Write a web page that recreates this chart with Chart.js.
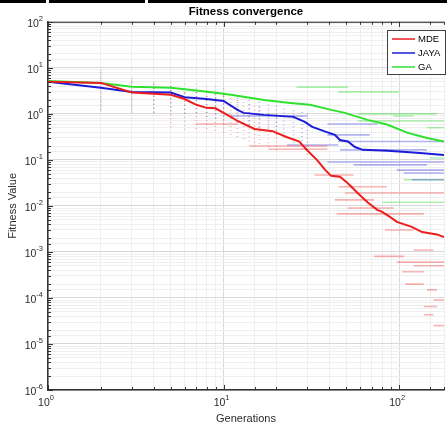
<!DOCTYPE html>
<html>
<head>
<meta charset="utf-8">
<script src="https://cdn.jsdelivr.net/npm/chart.js@4.4.1/dist/chart.umd.min.js"></script>
<style>
  html, body { margin: 0; padding: 0; background: #fff; }
  #wrap { width: 447px; height: 427px; }
</style>
</head>
<body>
<div id="wrap"><canvas id="fitnessChart"></canvas></div>
<script>
// best-so-far curves (generation, fitness)
const mdeGen  = [1, 2, 3, 5, 6, 7, 8, 9, 10, 11, 12, 15, 19, 23, 27, 30, 34, 38, 41, 46, 51, 58, 66, 75, 80, 89, 97, 118, 135, 164, 180];
const mdeBest = [5.0, 4.7, 2.9, 2.6, 2.1, 1.57, 1.35, 1.32, 1.05, 0.86, 0.7, 0.47, 0.42, 0.31, 0.25, 0.16, 0.1, 0.06, 0.045, 0.043, 0.031, 0.019, 0.012, 0.0082, 0.0074, 0.0057, 0.0045, 0.0035, 0.0027, 0.0024, 0.0021];

const jayaGen  = [1, 2, 3, 5, 6, 8, 10, 12, 13, 17, 25, 29, 32, 38, 43, 46, 51, 56, 62, 86, 126, 180];
const jayaBest = [5.0, 3.7, 3.0, 2.9, 2.3, 2.1, 1.9, 1.22, 1.05, 0.95, 0.86, 0.67, 0.52, 0.41, 0.35, 0.27, 0.25, 0.19, 0.165, 0.157, 0.142, 0.128];

const gaGen  = [1, 2, 3, 5, 7, 9, 11, 17, 24, 31, 41, 49, 66, 86, 111, 144, 180];
const gaBest = [5.2, 4.7, 3.9, 3.7, 3.2, 2.86, 2.6, 2.0, 1.73, 1.57, 1.22, 1.05, 0.74, 0.58, 0.39, 0.30, 0.25];

// individual runs: flat stretches (value, first gen, last gen)
const mdeRunY    = [0.6, 0.2, 0.17, 0.047, 0.026, 0.019, 0.0135, 0.009, 0.0067, 0.003, 0.0011, 0.0008, 0.0006, 0.0005, 0.00037, 0.0002, 0.00015, 0.00009, 0.000065, 0.000043, 0.000025];
const mdeRunFrom = [7, 14, 18, 33, 45, 49, 43, 51, 44, 83, 121, 72, 97, 121, 104, 108, 144, 157, 138, 138, 157];
const mdeRunTo   = [12, 39, 39, 55, 85, 180, 72, 93, 138, 121, 157, 107, 180, 180, 138, 138, 164, 180, 164, 157, 180];

const jayaRunY    = [0.9, 0.6, 0.35, 0.25, 0.21, 0.165, 0.09, 0.078, 0.06, 0.052, 0.037];
const jayaRunFrom = [11, 39, 39, 45, 23, 46, 39, 55, 97, 106, 118];
const jayaRunTo   = [30, 75, 68, 180, 45, 144, 180, 144, 180, 180, 180];

const gaRunY    = [3.8, 3.0, 1.0, 0.9, 0.7, 0.5, 0.11, 0.037, 0.012];
const gaRunFrom = [26, 45, 58, 93, 58, 144, 150, 106, 80];
const gaRunTo   = [51, 100, 164, 121, 180, 180, 180, 180, 180];

// spread of runs at early generations (gen, highest, lowest)
const mdeColGen  = [2, 3, 4, 5, 6, 7, 8, 9, 10, 11, 12, 13, 14, 15, 16, 18, 20];
const mdeColHigh = [9, 5.5, 4.5, 4, 3.5, 3, 3, 2.7, 2.5, 2.2, 2, 1.8, 1.6, 1.5, 1.4, 1.2, 1];
const mdeColLow  = [1.1, 1.0, 0.9, 0.45, 0.45, 0.45, 0.4, 0.4, 0.35, 0.3, 0.3, 0.25, 0.22, 0.2, 0.2, 0.18, 0.16];

const jayaColGen  = [2, 3, 4, 5, 6, 7, 8, 9, 10, 12, 14, 16, 18, 20, 22, 25, 28, 30];
const jayaColHigh = [8, 5, 4.5, 4, 3.5, 3, 3, 2.8, 2.5, 2.2, 2, 1.8, 1.6, 1.5, 1.3, 1.2, 1.1, 1];
const jayaColLow  = [1.2, 1.1, 1.0, 1.0, 0.9, 0.9, 0.8, 0.8, 0.7, 0.6, 0.5, 0.45, 0.4, 0.35, 0.3, 0.2, 0.15, 0.13];

const gaColGen  = [3, 4, 5, 6, 7, 8, 9, 10];
const gaColHigh = [6, 5, 5, 4.5, 4.5, 4, 4, 3.6];
const gaColLow  = [3, 3, 2.8, 2.5, 2.5, 2.4, 2.3, 2.2];

const names = ['MDE', 'JAYA', 'GA'];
const colors = ['#ee1d1d', '#1c1cd8', '#2fe22f'];
const faint = ['rgba(238,40,40,0.35)', 'rgba(40,40,215,0.35)', 'rgba(50,220,50,0.4)'];

const pair = (xs, ys) => xs.map((x, i) => ({ x, y: ys[i] }));

function flatRuns(ys, from, to) {
  const pts = [];
  ys.forEach((y, i) => pts.push({ x: from[i], y }, { x: to[i], y }, { x: to[i], y: null }));
  return pts;
}

function spreadCols(gens, high, low) {
  const pts = [];
  gens.forEach((g, i) => pts.push({ x: g, y: high[i] }, { x: g, y: low[i] }, { x: g, y: null }));
  return pts;
}

function isDecade(v) {
  const e = Math.log10(v);
  return Math.abs(e - Math.round(e)) < 1e-6;
}

const font = "'Liberation Sans', Arial, Helvetica, sans-serif";
const axisColor = '#333333';
const labelColor = '#2b2b2b';

// "10" with a raised exponent, like matlab log ticks
function drawPow(ctx, exp, x, y, align) {
  ctx.font = '10.5px ' + font;
  const wBase = ctx.measureText('10').width;
  ctx.font = '7.5px ' + font;
  const wExp = ctx.measureText(exp).width;
  const left = align === 'right' ? x - wBase - wExp : x - (wBase + wExp) / 2;
  ctx.textAlign = 'left';
  ctx.textBaseline = 'middle';
  ctx.font = '10.5px ' + font;
  ctx.fillText('10', left, y + 1);
  ctx.font = '7.5px ' + font;
  ctx.fillText(exp, left + wBase, y - 4);
}

// matlab style frame: top edge, inward ticks, tick labels, legend box
const framePlugin = {
  id: 'frame',
  afterLayout(chart) {
    const a = chart.chartArea;
    chart.titleBlock.left = a.left;
    chart.titleBlock.right = a.right;
  },
  afterDatasetsDraw(chart) {
    const { ctx, chartArea: a, scales } = chart;
    ctx.save();
    ctx.strokeStyle = axisColor;
    ctx.lineWidth = 1;
    ctx.beginPath();
    ctx.moveTo(a.left, a.top + 0.5);
    ctx.lineTo(a.right, a.top + 0.5);
    scales.y.ticks.forEach(t => {
      const y = Math.round(scales.y.getPixelForValue(t.value)) + 0.5;
      const len = isDecade(t.value) ? 5 : 3;
      ctx.moveTo(a.left, y);
      ctx.lineTo(a.left + len, y);
    });
    scales.x.ticks.forEach(t => {
      const x = Math.round(scales.x.getPixelForValue(t.value)) + 0.5;
      const len = isDecade(t.value) ? 5 : 3;
      ctx.moveTo(x, a.bottom);
      ctx.lineTo(x, a.bottom - len);
      ctx.moveTo(x, a.top);
      ctx.lineTo(x, a.top + len);
    });
    ctx.stroke();

    ctx.fillStyle = labelColor;
    scales.y.ticks.filter(t => isDecade(t.value)).forEach(t => {
      const e = Math.round(Math.log10(t.value));
      drawPow(ctx, String(e), a.left - 5, scales.y.getPixelForValue(t.value) + 1, 'right');
    });
    scales.x.ticks.filter(t => isDecade(t.value)).forEach(t => {
      const e = Math.round(Math.log10(t.value));
      drawPow(ctx, String(e), scales.x.getPixelForValue(t.value) - 2, a.bottom + 12, 'center');
    });

    // legend
    const bx = 387, by = 30, bw = 59, bh = 45;
    ctx.fillStyle = '#ffffff';
    ctx.fillRect(bx, by, bw, bh);
    ctx.strokeStyle = '#404040';
    ctx.strokeRect(bx + 0.5, by + 0.5, bw - 1, bh - 1);
    ctx.font = '9.5px ' + font;
    ctx.textBaseline = 'middle';
    names.forEach((n, i) => {
      const y = by + 9 + i * 14;
      ctx.strokeStyle = colors[i];
      ctx.lineWidth = 1.5;
      ctx.beginPath();
      ctx.moveTo(bx + 5, y);
      ctx.lineTo(bx + 28, y);
      ctx.stroke();
      ctx.fillStyle = '#000';
      ctx.fillText(n, bx + 31, y);
    });

    // strip of page border above the figure
    ctx.fillStyle = '#000';
    ctx.fillRect(0, 0, 46, 3);
    ctx.fillRect(49, 0, 96, 3);
    ctx.fillRect(148, 0, 299, 3);
    ctx.restore();
  }
};

const mainSets = [pair(mdeGen, mdeBest), pair(jayaGen, jayaBest), pair(gaGen, gaBest)];
const runSets = [flatRuns(mdeRunY, mdeRunFrom, mdeRunTo), flatRuns(jayaRunY, jayaRunFrom, jayaRunTo), flatRuns(gaRunY, gaRunFrom, gaRunTo)];
const colSets = [spreadCols(mdeColGen, mdeColHigh, mdeColLow), spreadCols(jayaColGen, jayaColHigh, jayaColLow), spreadCols(gaColGen, gaColHigh, gaColLow)];

const datasets = [];
names.forEach((n, i) => {
  datasets.push({ label: n, data: mainSets[i], borderColor: colors[i], borderWidth: 2, pointRadius: 0, order: 0 });
});
names.forEach((n, i) => {
  datasets.push({ label: n + ' runs', data: runSets[i], borderColor: faint[i], borderWidth: 1.6, pointRadius: 0, spanGaps: false, order: 1 });
  datasets.push({ label: n + ' spread', data: colSets[i], borderColor: faint[i], borderWidth: 1.5, borderDash: [1, 3], pointRadius: 0, spanGaps: false, order: 1 });
});

const gridColor = ctx => (ctx.tick && isDecade(ctx.tick.value)) ? '#d9d9d9' : '#efefef';

new Chart(document.getElementById('fitnessChart'), {
  type: 'line',
  data: { datasets },
  plugins: [framePlugin],
  options: {
    responsive: true,
    maintainAspectRatio: false,
    animation: false,
    layout: { padding: { left: 0, top: 0, bottom: 0, right: -5 } },
    elements: { line: { tension: 0 } },
    plugins: {
      legend: { display: false },
      tooltip: { enabled: false },
      title: {
        display: true,
        text: 'Fitness convergence',
        color: '#000',
        font: { family: font, size: 11.5, weight: 'bold' },
        padding: { top: 5, bottom: 3 }
      }
    },
    scales: {
      x: {
        type: 'logarithmic',
        min: 1,
        max: 180,
        afterFit: s => { s.height = 37; },
        grid: { color: gridColor, drawTicks: false },
        border: { color: axisColor, width: 1.5 },
        ticks: { autoSkip: false, maxRotation: 0, callback: () => '' },
        title: { display: true, text: 'Generations', color: labelColor, font: { family: font, size: 11 }, padding: { top: 0, bottom: 1 } }
      },
      y: {
        type: 'logarithmic',
        min: 1e-6,
        max: 100,
        afterFit: s => { s.width = 48; },
        grid: { color: gridColor, drawTicks: false },
        border: { color: axisColor, width: 1.5 },
        ticks: { autoSkip: false, callback: () => '' },
        title: { display: true, text: 'Fitness Value', color: labelColor, font: { family: font, size: 11 }, padding: { top: 6, bottom: 0 } }
      }
    }
  }
});
</script>
</body>
</html>
